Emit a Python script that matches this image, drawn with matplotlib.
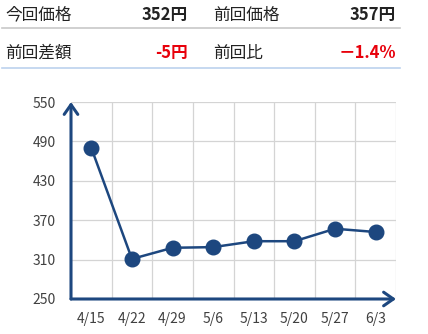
import matplotlib
matplotlib.use("Agg")
import matplotlib.pyplot as plt

plt.rcParams['font.family'] = ['Noto Sans CJK JP', 'DejaVu Sans']

dates = ["4/15", "4/22", "4/29", "5/6", "5/13", "5/20", "5/27", "6/3"]
prices = [480, 311, 328, 329, 338, 338, 357, 352]
yticks = [250, 310, 370, 430, 490, 550]

row1 = [("今回価格", "352円", "#222222"), ("前回価格", "357円", "#222222")]
row2 = [("前回差額", "-5円", "#e8000b"), ("前回比", "－1.4%", "#e8000b")]

W, H = 428, 334
fig = plt.figure(figsize=(W / 100, H / 100), dpi=100)

def fx(px):
    return px / W

def fy(py):
    return 1 - py / H

# header table
for row, ty in ((row1, 15), (row2, 53)):
    for (lab, val, col), (lx, rx) in zip(row, ((5, 188), (213, 396))):
        fig.text(fx(lx), fy(ty), lab, fontsize=12, color="#222222",
                 ha="left", va="center")
        fig.text(fx(rx), fy(ty), val, fontsize=12, color=col,
                 ha="right", va="center", fontweight="bold")
fig.add_artist(plt.Line2D([fx(2), fx(400)], [fy(28), fy(28)], color="#c8c8c8", lw=1.2))
fig.add_artist(plt.Line2D([fx(2), fx(400)], [fy(68), fy(68)], color="#bcd2ee", lw=1.2))

ax = fig.add_axes([fx(71), fy(299), fx(396) - fx(71), fy(102) - fy(299)])
navy = "#1d477f"
x = list(range(len(dates)))
ax.plot(x, prices, color=navy, lw=1.8, marker="o", markersize=10.5, zorder=3)

ax.set_xlim(-0.5, len(dates) - 0.5)
ax.set_ylim(yticks[0], yticks[-1])
ax.set_yticks(yticks)
ax.set_xticks(x)
ax.set_xticklabels(dates)

for yv in yticks[1:]:
    ax.axhline(yv, color="#d4d4d4", lw=0.9, zorder=0)
for k in range(len(dates)):
    ax.axvline(k + 0.5, color="#d4d4d4", lw=0.9, zorder=0)

for s in ax.spines.values():
    s.set_visible(False)
ax.tick_params(length=0, labelsize=10, colors="#404040")
ax.tick_params(axis="y", pad=11)
ax.tick_params(axis="x", pad=9)

arrow = dict(arrowstyle="->,head_length=0.5,head_width=0.35", color=navy, lw=2.2,
             mutation_scale=14, shrinkA=0, shrinkB=0)
ax.annotate("", xy=(0, 1), xytext=(0, 0), xycoords="axes fraction",
            arrowprops=arrow, annotation_clip=False)
ax.annotate("", xy=(1, 0), xytext=(0, 0), xycoords="axes fraction",
            arrowprops=arrow, annotation_clip=False)

fig.savefig("out.png", dpi=100)
